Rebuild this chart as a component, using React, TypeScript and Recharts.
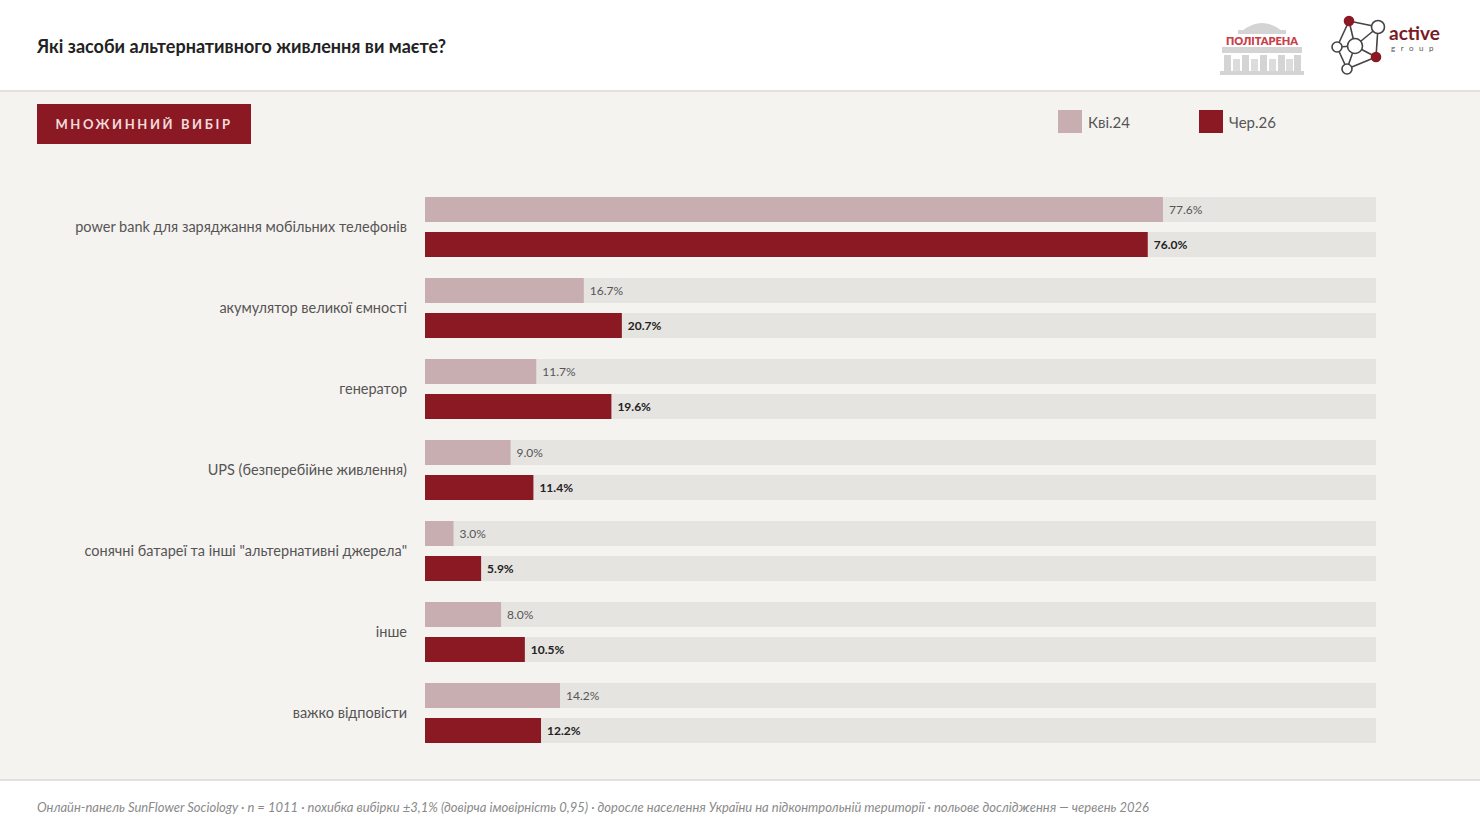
import { BarChart, Bar, XAxis, YAxis, LabelList } from "recharts";

const categories = [
  "power bank для заряджання мобільних телефонів",
  "акумулятор великої ємності",
  "генератор",
  "UPS (безперебійне живлення)",
  "сонячні батареї та інші \"альтернативні джерела\"",
  "інше",
  "важко відповісти",
];
const april24 = [77.6, 16.7, 11.7, 9.0, 3.0, 8.0, 14.2];
const june26 = [76.0, 20.7, 19.6, 11.4, 5.9, 10.5, 12.2];
const seriesNames = ["Кві.24", "Чер.26"];

const LIGHT = "#c9aeb1";
const DARK = "#8b1923";
const TRACK = "#e6e4e1";
const FONT = "Lato, 'Noto Sans', sans-serif";

const data = categories.map((name, i) => ({
  name,
  a: april24[i],
  b: june26[i],
}));

const CategoryTick = (props: any) => {
  const { y, payload } = props;
  return (
    <text
      x={407}
      y={y}
      dy={5}
      textAnchor="end"
      fill="#555"
      fontSize={14.5}
      fontFamily={FONT}
    >
      {payload.value}
    </text>
  );
};

const fmt = (v: any) => `${Number(v).toFixed(1)}%`;

const PolitArena = () => (
  <svg width={84} height={58} style={{ position: "absolute", left: 1220, top: 17 }}>
    <path d="M22 14 Q42 -2 62 14 Z" fill="#d4d4d4" />
    <rect x={18} y={13} width={48} height={4} fill="#d4d4d4" />
    <rect x={2} y={30} width={80} height={6} fill="#d4d4d4" />
    {[4, 22, 40, 58, 74].map((x) => (
      <rect key={x} x={x} y={38} width={7} height={16} fill="#d4d4d4" />
    ))}
    {[13, 31, 49, 66].map((x) => (
      <rect key={x} x={x} y={42} width={7} height={12} fill="#dcdcdc" />
    ))}
    <rect x={0} y={54} width={84} height={4} fill="#d4d4d4" />
    <text x={42} y={28} textAnchor="middle" fontSize={11} fontWeight={800} fill="#c9404a" fontFamily={FONT}>
      ПОЛІТАРЕНА
    </text>
  </svg>
);

const ActiveGroup = () => {
  const nodes = [
    { x: 19, y: 7, r: 4.5, f: DARK },
    { x: 48, y: 13, r: 6.5, f: "#fff" },
    { x: 7, y: 33, r: 5, f: "#fff" },
    { x: 25, y: 32, r: 7.5, f: "#fff" },
    { x: 46, y: 43, r: 4.5, f: DARK },
    { x: 17, y: 55, r: 5, f: "#fff" },
  ];
  const edges = [[0, 1], [0, 2], [0, 3], [1, 3], [1, 4], [2, 3], [2, 5], [3, 5], [4, 5], [3, 4]];
  return (
    <svg width={120} height={64} style={{ position: "absolute", left: 1330, top: 14 }}>
      {edges.map(([a, b], i) => (
        <line key={i} x1={nodes[a].x} y1={nodes[a].y} x2={nodes[b].x} y2={nodes[b].y} stroke="#444" strokeWidth={1.6} />
      ))}
      {nodes.map((n, i) => (
        <circle key={i} cx={n.x} cy={n.y} r={n.r} fill={n.f} stroke={n.f === "#fff" ? "#444" : DARK} strokeWidth={1.6} />
      ))}
      <text x={59} y={26} fontSize={19} fontWeight={700} fill="#7a1a24" fontFamily={FONT}>
        active
      </text>
      <text x={61} y={37} fontSize={8} letterSpacing={5.5} fill="#555" fontFamily={FONT}>
        group
      </text>
    </svg>
  );
};

export default function App() {
  return (
    <div
      style={{
        position: "absolute",
        left: 0,
        top: 0,
        width: 1480,
        height: 833,
        background: "#fff",
        fontFamily: FONT,
        overflow: "hidden",
      }}
    >
      <div style={{ position: "absolute", left: 0, top: 90, width: 1480, height: 691, background: "#f5f3f0", borderTop: "2px solid #e2e0dd", borderBottom: "2px solid #e2e0dd", boxSizing: "border-box" }} />
      <div style={{ position: "absolute", left: 37, top: 35, fontSize: 18, fontWeight: 700, color: "#222" }}>
        Які засоби альтернативного живлення ви маєте?
      </div>
      <PolitArena />
      <ActiveGroup />
      <div
        style={{
          position: "absolute",
          left: 37,
          top: 104,
          width: 214,
          height: 40,
          background: DARK,
          color: "#f3dcdc",
          fontSize: 13,
          fontWeight: 700,
          letterSpacing: 2.6,
          display: "flex",
          alignItems: "center",
          justifyContent: "center",
        }}
      >
        МНОЖИННИЙ ВИБІР
      </div>
      {seriesNames.map((s, i) => (
        <div key={s} style={{ position: "absolute", left: 1058 + i * 141, top: 110, display: "flex", alignItems: "center" }}>
          <div style={{ width: 24, height: 23, background: i === 0 ? LIGHT : DARK }} />
          <span style={{ marginLeft: 6, fontSize: 15, color: "#555" }}>{s}</span>
        </div>
      ))}
      <div style={{ position: "absolute", left: 0, top: 0 }}>
        <BarChart
          width={1480}
          height={753}
          data={data}
          layout="vertical"
          margin={{ top: 186, right: 104, bottom: 0, left: 0 }}
          barGap={10}
        >
          <XAxis type="number" domain={[0, 100]} hide />
          <YAxis
            type="category"
            dataKey="name"
            width={425}
            axisLine={false}
            tickLine={false}
            tick={<CategoryTick />}
            interval={0}
          />
          <Bar dataKey="a" name={seriesNames[0]} fill={LIGHT} barSize={25} background={{ fill: TRACK }} isAnimationActive={false}>
            <LabelList dataKey="a" position="right" offset={6} formatter={fmt} fill="#555" fontSize={12} fontFamily={FONT} />
          </Bar>
          <Bar dataKey="b" name={seriesNames[1]} fill={DARK} barSize={25} background={{ fill: TRACK }} isAnimationActive={false}>
            <LabelList dataKey="b" position="right" offset={6} formatter={fmt} fill="#222" fontSize={12} fontWeight={700} fontFamily={FONT} />
          </Bar>
        </BarChart>
      </div>
      <div style={{ position: "absolute", left: 37, top: 799, fontSize: 13, fontStyle: "italic", color: "#8a8a8a" }}>
        Онлайн-панель SunFlower Sociology · n = 1011 · похибка вибірки ±3,1% (довірча імовірність 0,95) · доросле населення України на підконтрольній території · польове дослідження — червень 2026
      </div>
    </div>
  );
}
